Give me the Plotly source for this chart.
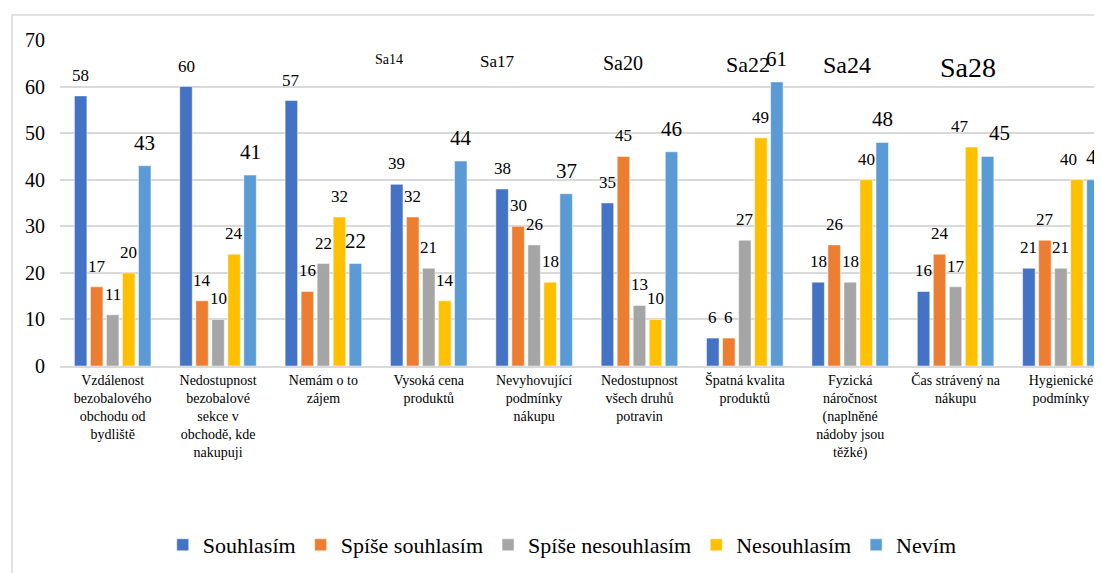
import plotly.graph_objects as go

categorias = [
    "Vzdálenost<br>bezobalového<br>obchodu od<br>bydliště",
    "Nedostupnost<br>bezobalové<br>sekce v<br>obchodě, kde<br>nakupuji",
    "Nemám o to<br>zájem",
    "Vysoká cena<br>produktů",
    "Nevyhovující<br>podmínky<br>nákupu",
    "Nedostupnost<br>všech druhů<br>potravin",
    "Špatná kvalita<br>produktů",
    "Fyzická<br>náročnost<br>(naplněné<br>nádoby jsou<br>těžké)",
    "Čas strávený na<br>nákupu",
    "Hygienické<br>podmínky",
]

souhlasim = [58, 60, 57, 39, 38, 35, 6, 18, 16, 21]
spise_souhlasim = [17, 14, 16, 32, 30, 45, 6, 26, 24, 27]
spise_nesouhlasim = [11, 10, 22, 21, 26, 13, 27, 18, 17, 21]
nesouhlasim = [20, 24, 32, 14, 18, 10, 49, 40, 47, 40]
nevim = [43, 41, 22, 44, 37, 46, 61, 48, 45, 40]

serie = [
    ("Souhlasím", souhlasim, "#4472C4", 17),
    ("Spíše souhlasím", spise_souhlasim, "#ED7D31", 17),
    ("Spíše nesouhlasím", spise_nesouhlasim, "#A5A5A5", 17),
    ("Nesouhlasím", nesouhlasim, "#FFC000", 17),
    ("Nevím", nevim, "#5B9BD5", 21),
]

ajustes = {(3, 8): -12, (4, 8): 12, (3, 9): -8, (4, 9): 4}

fonte = "Liberation Serif"
largura, altura = 1102, 573
m_esq, m_dir, m_top, m_baixo = 52, 8, 32, 215
x_max = 9.39
bargap, bargroupgap = 0.24, 0.22

fig = go.Figure()
for nome, valores, cor, _ in serie:
    fig.add_trace(go.Bar(x=list(range(len(categorias))), y=valores, name=nome,
                         marker=dict(color=cor, line=dict(color="white", width=0.5))))

cat_px = (largura - m_esq - m_dir) / (x_max + 0.5)
passo = cat_px * (1 - bargap) / len(serie)
for i, (nome, valores, cor, tam) in enumerate(serie):
    for j, v in enumerate(valores):
        fig.add_annotation(x=j, y=v, text=str(v), showarrow=False, yanchor="bottom",
                           xshift=(i - 2) * passo + ajustes.get((i, j), 0), yshift=9,
                           font=dict(family=fonte, size=tam))

# teste de tamanhos
for k, t in enumerate([14, 17, 20, 22, 24, 28]):
    fig.add_annotation(x=0.3 + k * 0.12, y=0.97, xref="paper", yref="paper", showarrow=False,
                       text="Sa" + str(t), font=dict(family=fonte, size=t))

fig.update_layout(
    width=largura, height=altura,
    margin=dict(l=m_esq, r=m_dir, t=m_top, b=m_baixo),
    paper_bgcolor="white", plot_bgcolor="white",
    font=dict(color="#000000"),
    barmode="group", bargap=bargap, bargroupgap=bargroupgap,
    legend=dict(orientation="h", x=0.482, xanchor="center", y=-0.549, yanchor="middle",
                font=dict(family=fonte, size=22)),
)
fig.add_shape(type="rect", xref="paper", yref="paper", x0=-0.046, x1=1.2,
              y0=-1, y1=1.0767, line=dict(color="#d9d9d9", width=1.5), layer="below")
fig.update_xaxes(tickmode="array", tickvals=list(range(len(categorias))), ticktext=categorias,
                 range=[-0.5, x_max], tickfont=dict(family=fonte, size=14),
                 tickangle=0, showline=True, linecolor="#d9d9d9", linewidth=1.5,
                 showgrid=False, automargin=False)
fig.update_yaxes(range=[0, 70], dtick=10, tickfont=dict(family=fonte, size=20),
                 showgrid=True, gridcolor="#d9d9d9", gridwidth=1.5, zeroline=False,
                 ticklabelstandoff=14, automargin=False)

fig.write_html("out.html")
